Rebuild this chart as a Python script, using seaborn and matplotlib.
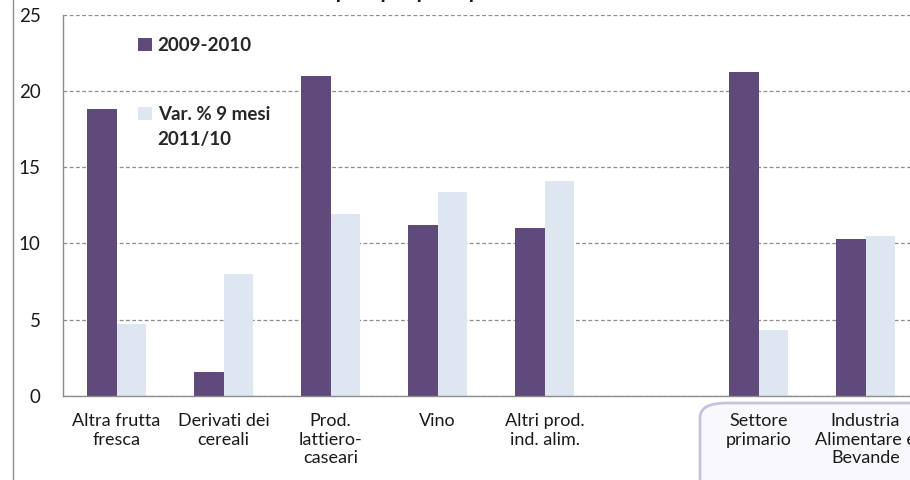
import matplotlib
matplotlib.use('Agg')
import pandas as pd
import matplotlib.pyplot as plt
import seaborn as sns
from matplotlib.patches import FancyBboxPatch
from matplotlib.lines import Line2D

# values
categories = ['Altra frutta\nfresca', 'Derivati dei\ncereali', 'Prod.\nlattiero-\ncaseari', 'Vino',
              'Altri prod.\nind. alim.', ' ', 'Settore\nprimario', 'Industria\nAlimentare e\nBevande']
val_2009_2010 = [18.8, 1.6, 21.0, 11.2, 11.0, None, 21.2, 10.3]
val_var_9mesi = [4.7, 8.0, 11.9, 13.4, 14.1, None, 4.3, 10.5]
series_names = ['2009-2010', 'Var. % 9 mesi\n2011/10']
series_colors = ['#604a7b', '#dee6f2']
y_ticks = [0, 5, 10, 15, 20, 25]
title = 'Export per principali settori'

# long table for seaborn
rows = []
for cat, a, b in zip(categories, val_2009_2010, val_var_9mesi):
    rows.append({'cat': cat, 'serie': series_names[0], 'val': a})
    rows.append({'cat': cat, 'serie': series_names[1], 'val': b})
df = pd.DataFrame(rows).dropna()

sns.set_style('white')
plt.rcParams['font.family'] = ['Lato', 'DejaVu Sans']

fig = plt.figure(figsize=(9.1, 4.8), dpi=100)
ax = fig.add_axes([63 / 910, 84 / 480, 856 / 910, 381.5 / 480])

sns.barplot(data=df, x='cat', y='val', hue='serie', order=categories, hue_order=series_names,
            palette=dict(zip(series_names, series_colors)), width=0.56, gap=0,
            errorbar=None, saturation=1, linewidth=0, ax=ax)

ax.set_xlim(-0.5, len(categories) - 0.5)
ax.set_ylim(0, 25)
ax.set_yticks(y_ticks)
ax.set_xlabel('')
ax.set_ylabel('')

# grid
ax.yaxis.grid(True, linestyle=(0, (3, 2)), color='#8c8c8c', linewidth=0.9)
ax.set_axisbelow(True)
for s in ['top', 'right']:
    ax.spines[s].set_visible(False)
for s in ['left', 'bottom']:
    ax.spines[s].set_color('#8c8c8c')
    ax.spines[s].set_linewidth(1.0)

ax.tick_params(axis='y', direction='out', length=5, width=1, color='#8c8c8c', pad=11,
               labelsize=13.5, labelcolor='#1a1a1a')
# category labels centred, tick marks between categories
ax.set_xticks(range(len(categories)))
ax.set_xticklabels(categories, fontsize=13, color='#1a1a1a', linespacing=1.22)
ax.tick_params(axis='x', which='major', length=0, pad=12)
ax.set_xticks([i - 0.5 for i in range(len(categories) + 1)], minor=True)
ax.tick_params(axis='x', which='minor', direction='out', length=5, width=1, color='#8c8c8c')

# legend
handles, labels = ax.get_legend_handles_labels()
leg = ax.legend(handles, labels, loc='upper left', bbox_to_anchor=(0.0876, 0.941), frameon=False,
                borderaxespad=0, borderpad=0,
                handlelength=0.75, handleheight=0.75, handletextpad=0.3, labelspacing=2.75,
                prop={'weight': 'bold', 'size': 13.5})
for t in leg.get_texts():
    t.set_linespacing(1.6)
# align the second marker with the first line of its label, as in the source
leg.legend_handles[1].set_y(leg.legend_handles[1].get_y() + 9.8)

# rounded frame behind the last two labels
box = FancyBboxPatch((700 / 910, -0.1), 0.4, (480 - 403) / 480 + 0.1,
                     boxstyle='round,pad=0,rounding_size=0.03', transform=fig.transFigure,
                     facecolor='#f9f8fd', edgecolor='#c9c0e0', linewidth=2, zorder=-1)
fig.patches.append(box)

# outer chart border line on the left
fig.add_artist(Line2D([13 / 910, 13 / 910], [0, 1], transform=fig.transFigure, color='#8c8c8c', linewidth=1))

# title, mostly cut off at the top like the reference
fig.text(440 / 910, 1.004, title, ha='center', va='baseline', fontsize=15, fontweight='bold', color='#1a1a1a')

fig.savefig('out.png', dpi=100)
